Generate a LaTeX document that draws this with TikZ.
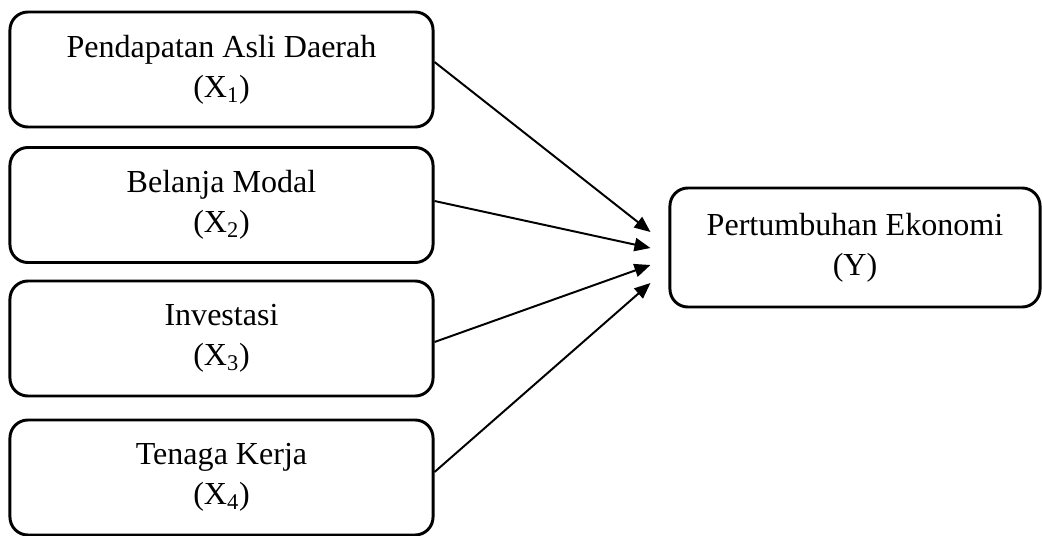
\documentclass[tikz,border=0pt]{standalone}
\usepackage{fontspec}
\setmainfont{Liberation Serif}
\usepackage{tikz}
\usetikzlibrary{arrows.meta, calc}

\begin{document}
\begin{tikzpicture}[
  x=0.025cm, y=-0.025cm,
  varbox/.style = {draw, line width=2.1pt, rounded corners=0.45cm,
                   minimum width=10.575cm, minimum height=2.875cm,
                   inner sep=0pt, align=center,
                   font=\fontsize{22.8}{28.5}\selectfont},
  depbox/.style = {varbox, minimum width=9.25cm, minimum height=2.975cm},
  arr/.style    = {-{Triangle[length=0.4cm, width=0.33cm]}, line width=1.4pt},
]
\useasboundingbox (0,0) rectangle (1042,535);

%% independent variables
\foreach \i/\y/\txt in {1/69.5/Pendapatan Asli Daerah,
                        2/205/Belanja Modal,
                        3/338.5/Investasi,
                        4/477.5/Tenaga Kerja}{
  \node[varbox] (x\i) at (221.5, \y) {\txt\\(X\textsubscript{\i})};
}

%% dependent variable
\node[depbox] (y) at (855, 247.5) {Pertumbuhan Ekonomi\\(Y)};

%% arrows into Y
\foreach \i/\a/\b in {1/-7.5/-15.5, 2/-4/0.5, 3/3.5/17.5, 4/-5.5/35.5}{
  \draw[arr] ($(x\i.east)+(0,\a)$) -- ($(y.west)+(-18,\b)$);
}

\end{tikzpicture}
\end{document}
